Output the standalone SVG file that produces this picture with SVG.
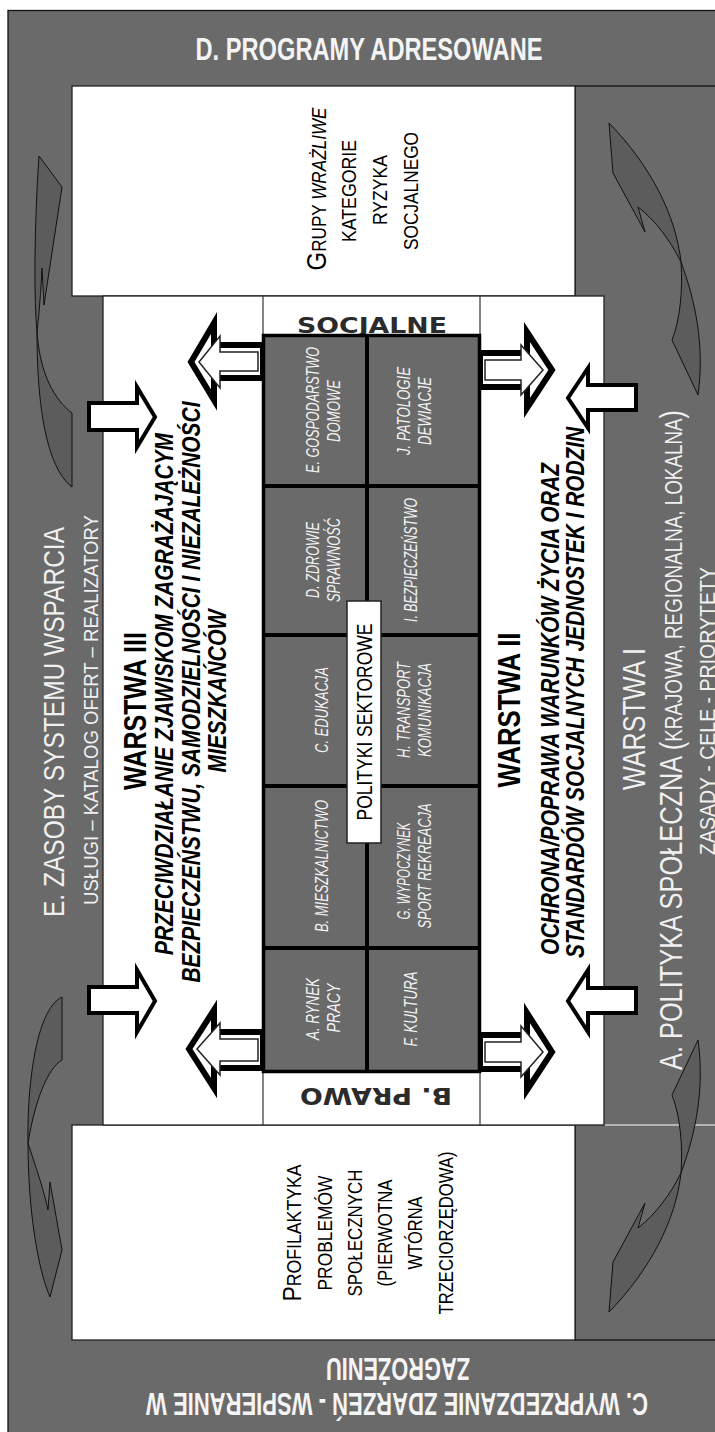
<svg xmlns="http://www.w3.org/2000/svg" width="715" height="1432" viewBox="0 0 715 1432">
  <style>
    .panel { fill: #6a6a6a; stroke: #111; stroke-width: 1.3; }
    .box { fill: #ffffff; stroke: #222; stroke-width: 1.3; }
    .rule { stroke: #333; stroke-width: 1.2; fill: none; }
    .grid { fill: #6a6a6a; stroke: #000; stroke-width: 3.5; }
    .gline { stroke: #000; stroke-width: 4; }
    .swoosh { fill: #5c5c5c; stroke: #111; stroke-width: 1; stroke-linejoin: round; }
    .arrow-o { fill: #fff; stroke: #000; stroke-width: 4; stroke-linejoin: miter; }
    .arrow-d { fill: #fff; stroke: #000; stroke-width: 6; stroke-linejoin: miter; }
    .arrow-i { fill: #fff; stroke: #222; stroke-width: 1.5; stroke-linejoin: miter; }
    text { font-family: "Liberation Sans Narrow", "Liberation Sans", Arial, sans-serif; }
    .ttl { font-size: 31px; font-weight: bold; fill: #f4f4f4; }
    .lite { fill: #f0f0f0; }
    .blk { fill: #000; }
    .bold { font-weight: bold; }
    .bi { font-weight: bold; font-style: italic; fill: #000; font-size: 26px; }
    .cell { font-size: 18px; font-style: italic; fill: #f2f2f2; }
    .sc { font-size: 20px; fill: #000; }
    .heavy { font-family: "DejaVu Sans", "Liberation Sans", sans-serif; font-weight: bold; fill: #2b2b2b; }
  </style>

  <!-- background frame -->
  <g id="frame">
    <rect class="panel" x="8" y="10.5" width="720" height="1430"/>
    <rect class="panel" x="575" y="86" width="150" height="1254"/>
    <line x1="605" y1="1125" x2="715" y2="1125" stroke="#b4b4b4" stroke-width="2"/>
  </g>

  <!-- curved swooshes in the side strips -->
  <g id="swooshes">
    <path class="swoosh" d="M39,156 L62,187 L44,305 L42,268 C41,290 39,315 37,332 C34,300 34,230 39,156 Z"/>
    <path class="swoosh" d="M37,332 C40,375 55,400 72,413 L72,487 C50,470 37,420 37,332 Z"/>
    <path class="swoosh" d="M62,997 L62,1060 C48,1068 35,1100 28,1143 C27,1090 35,1010 62,997 Z"/>
    <path class="swoosh" d="M28,1143 C35,1165 44,1190 48,1210 L50,1182 L62,1250 L50,1297 C38,1270 28,1210 28,1143 Z"/>
    <g id="swoosh-tr">
      <path class="swoosh" d="M609,123 L613,173 L645,232 L638,207 C655,220 670,240 681,262 C676,215 650,165 609,123 Z"/>
      <path class="swoosh" d="M681,262 C695,300 705,345 698,395 L672,340 C680,320 683,290 681,262 Z"/>
    </g>
    <g transform="translate(0,1435) scale(1,-1)">
      <path class="swoosh" d="M609,123 L613,173 L645,232 L638,207 C655,220 670,240 681,262 C676,215 650,165 609,123 Z"/>
      <path class="swoosh" d="M681,262 C695,300 705,345 698,395 L672,340 C680,320 683,290 681,262 Z"/>
    </g>
  </g>

  <!-- D: addressed programmes (top) -->
  <g id="node-d">
    <text class="ttl" x="369" y="60" text-anchor="middle" textLength="347" lengthAdjust="spacingAndGlyphs">D. PROGRAMY ADRESOWANE</text>
  </g>

  <!-- vulnerable groups box -->
  <g id="node-grupy">
    <rect class="box" x="72" y="86" width="503" height="210"/>
    <text class="sc" transform="translate(326,189) rotate(-90)" text-anchor="middle" textLength="163" lengthAdjust="spacingAndGlyphs"><tspan font-size="28">G</tspan>RUPY <tspan font-style="italic">WRAŻLIWE</tspan></text>
    <text class="sc" transform="translate(356,191) rotate(-90)" text-anchor="middle" textLength="102" lengthAdjust="spacingAndGlyphs">KATEGORIE</text>
    <text class="sc" transform="translate(387,190) rotate(-90)" text-anchor="middle" textLength="70" lengthAdjust="spacingAndGlyphs">RYZYKA</text>
    <text class="sc" transform="translate(418,191) rotate(-90)" text-anchor="middle" textLength="118" lengthAdjust="spacingAndGlyphs">SOCJALNEGO</text>
  </g>

  <!-- prevention box -->
  <g id="node-profilaktyka">
    <rect class="box" x="72" y="1125" width="503" height="215"/>
    <text class="sc" transform="translate(301,1233) rotate(-90)" text-anchor="middle" textLength="137" lengthAdjust="spacingAndGlyphs"><tspan font-size="26">P</tspan>ROFILAKTYKA</text>
    <text class="sc" transform="translate(332,1233) rotate(-90)" text-anchor="middle" textLength="115" lengthAdjust="spacingAndGlyphs">PROBLEMÓW</text>
    <text class="sc" transform="translate(362,1233) rotate(-90)" text-anchor="middle" textLength="127" lengthAdjust="spacingAndGlyphs">SPOŁECZNYCH</text>
    <text class="sc" transform="translate(392,1233) rotate(-90)" text-anchor="middle" textLength="107" lengthAdjust="spacingAndGlyphs">(PIERWOTNA</text>
    <text class="sc" transform="translate(422,1233) rotate(-90)" text-anchor="middle" textLength="73" lengthAdjust="spacingAndGlyphs">WTÓRNA</text>
    <text class="sc" transform="translate(453,1233) rotate(-90)" text-anchor="middle" textLength="163" lengthAdjust="spacingAndGlyphs">TRZECIORZĘDOWA)</text>
  </g>

  <!-- C: anticipating events (bottom, upside down) -->
  <g id="node-c">
    <text class="ttl" transform="translate(397,1393) rotate(180)" text-anchor="middle" textLength="502" lengthAdjust="spacingAndGlyphs">C. WYPRZEDZANIE ZDARZEŃ - WSPIERANIE W</text>
    <text class="ttl" font-size="29" transform="translate(398,1358) rotate(180)" text-anchor="middle" textLength="144" lengthAdjust="spacingAndGlyphs">ZAGROŻENIU</text>
  </g>

  <!-- E: support resources (left strip) -->
  <g id="node-e">
    <text class="lite" font-size="30" transform="translate(64,722) rotate(-90)" text-anchor="middle" textLength="390" lengthAdjust="spacingAndGlyphs">E. ZASOBY SYSTEMU WSPARCIA</text>
    <text class="lite" font-size="20" transform="translate(98,710) rotate(-90)" text-anchor="middle" textLength="390" lengthAdjust="spacingAndGlyphs">USŁUGI – KATALOG OFERT – REALIZATORY</text>
  </g>

  <!-- A: social policy (right strip) -->
  <g id="node-a">
    <text class="lite" font-size="31" transform="translate(645,719) rotate(-90)" text-anchor="middle" textLength="142" lengthAdjust="spacingAndGlyphs">WARSTWA I</text>
    <text class="lite" font-size="31" transform="translate(682,1070) rotate(-90)" textLength="660" lengthAdjust="spacingAndGlyphs">A. POLITYKA SPOŁECZNA (<tspan font-size="23">KRAJOWA, REGIONALNA, LOKALNA</tspan>)</text>
    <text class="lite" font-size="22" transform="translate(715,711) rotate(-90)" text-anchor="middle" textLength="288" lengthAdjust="spacingAndGlyphs">ZASADY - CELE - PRIORYTETY</text>
  </g>

  <!-- central white field with layers II and III -->
  <g id="node-warstwy">
    <rect class="box" x="103" y="296" width="501" height="829"/>
    <line class="rule" x1="263" y1="296" x2="263" y2="1125"/>
    <line class="rule" x1="480" y1="296" x2="480" y2="1125"/>
    <text class="blk bold" font-size="31" transform="translate(146,711) rotate(-90)" text-anchor="middle" textLength="158" lengthAdjust="spacingAndGlyphs">WARSTWA III</text>
    <text class="bi" transform="translate(173,694) rotate(-90)" text-anchor="middle" textLength="522" lengthAdjust="spacingAndGlyphs">PRZECIWDZIAŁANIE ZJAWISKOM ZAGRAŻAJĄCYM</text>
    <text class="bi" transform="translate(200,692) rotate(-90)" text-anchor="middle" textLength="581" lengthAdjust="spacingAndGlyphs">BEZPIECZEŃSTWU, SAMODZIELNOŚCI I NIEZALEŻNOŚCI</text>
    <text class="bi" transform="translate(226,691) rotate(-90)" text-anchor="middle" textLength="163" lengthAdjust="spacingAndGlyphs">MIESZKAŃCÓW</text>
    <text class="blk bold" font-size="31" transform="translate(520,710) rotate(-90)" text-anchor="middle" textLength="155" lengthAdjust="spacingAndGlyphs">WARSTWA II</text>
    <text class="bi" transform="translate(559,955) rotate(-90)" textLength="492" lengthAdjust="spacingAndGlyphs">OCHRONA/POPRAWA WARUNKÓW ŻYCIA ORAZ</text>
    <text class="bi" transform="translate(584,958) rotate(-90)" textLength="531" lengthAdjust="spacingAndGlyphs">STANDARDÓW SOCJALNYCH JEDNOSTEK I RODZIN</text>
  </g>

  <!-- social / law headers of the sector column -->
  <g id="node-socjalne">
    <text class="heavy" font-size="22" x="372" y="333" text-anchor="middle" textLength="150" lengthAdjust="spacingAndGlyphs">SOCJALNE</text>
  </g>
  <g id="node-prawo">
    <text class="heavy" font-size="23" transform="translate(376,1088) rotate(180)" text-anchor="middle" textLength="152" lengthAdjust="spacingAndGlyphs">B. PRAWO</text>
  </g>

  <!-- connectors -->
  <g id="connectors">
    <path class="arrow-o" d="M89,403 L137,403 L137,387 L155,417 L137,447 L137,430 L89,430 Z"/>
    <path class="arrow-o" d="M89,987 L137,987 L137,970 L155,1001 L137,1032 L137,1013 L89,1013 Z"/>
    <path class="arrow-o" d="M636,385 L588,385 L588,368 L568,398 L588,428 L588,410 L636,410 Z"/>
    <path class="arrow-o" d="M636,988 L588,988 L588,970 L568,1001 L588,1032 L588,1013 L636,1013 Z"/>

    <path class="arrow-d" d="M263,345 L214,345 L214,323 L191,362 L214,400 L214,378 L263,378 Z"/>
    <path class="arrow-i" d="M258,352 L220,352 L220,336 L199,362 L220,388 L220,371 L258,371 Z"/>
    <path class="arrow-d" d="M480,353 L527,353 L527,332 L552,370 L527,408 L527,387 L480,387 Z"/>
    <path class="arrow-i" d="M485,360 L521,360 L521,345 L543,370 L521,395 L521,380 L485,380 Z"/>
    <path class="arrow-d" d="M263,1032 L214,1032 L214,1010 L189,1049 L214,1088 L214,1068 L263,1068 Z"/>
    <path class="arrow-i" d="M258,1039 L220,1039 L220,1023 L197,1049 L220,1075 L220,1061 L258,1061 Z"/>
    <path class="arrow-d" d="M480,1035 L527,1035 L527,1013 L552,1052 L527,1090 L527,1069 L480,1069 Z"/>
    <path class="arrow-i" d="M485,1042 L521,1042 L521,1026 L543,1052 L521,1077 L521,1062 L485,1062 Z"/>
  </g>

  <!-- sector policy grid -->
  <g id="node-sektory">
    <rect class="grid" x="263.5" y="335.5" width="216" height="736"/>
    <line class="gline" x1="367" y1="336" x2="367" y2="1071"/>
    <line class="gline" x1="264" y1="486" x2="479" y2="486"/>
    <line class="gline" x1="264" y1="635" x2="479" y2="635"/>
    <line class="gline" x1="264" y1="786" x2="479" y2="786"/>
    <line class="gline" x1="264" y1="948" x2="479" y2="948"/>

    <text class="cell" transform="translate(319,410) rotate(-90)" text-anchor="middle" textLength="126" lengthAdjust="spacingAndGlyphs">E. GOSPODARSTWO</text>
    <text class="cell" transform="translate(340,411) rotate(-90)" text-anchor="middle" textLength="62" lengthAdjust="spacingAndGlyphs">DOMOWE</text>
    <text class="cell" transform="translate(410,411) rotate(-90)" text-anchor="middle" textLength="88" lengthAdjust="spacingAndGlyphs">J. PATOLOGIE</text>
    <text class="cell" transform="translate(431,411) rotate(-90)" text-anchor="middle" textLength="68" lengthAdjust="spacingAndGlyphs">DEWIACJE</text>

    <text class="cell" transform="translate(319,560) rotate(-90)" text-anchor="middle" textLength="76" lengthAdjust="spacingAndGlyphs">D. ZDROWIE</text>
    <text class="cell" transform="translate(340,560) rotate(-90)" text-anchor="middle" textLength="84" lengthAdjust="spacingAndGlyphs">SPRAWNOŚĆ</text>
    <text class="cell" transform="translate(417,560) rotate(-90)" text-anchor="middle" textLength="124" lengthAdjust="spacingAndGlyphs">I. BEZPIECZEŃSTWO</text>

    <text class="cell" transform="translate(328,710) rotate(-90)" text-anchor="middle" textLength="86" lengthAdjust="spacingAndGlyphs">C. EDUKACJA</text>
    <text class="cell" transform="translate(410,710) rotate(-90)" text-anchor="middle" textLength="96" lengthAdjust="spacingAndGlyphs">H. TRANSPORT</text>
    <text class="cell" transform="translate(431,710) rotate(-90)" text-anchor="middle" textLength="94" lengthAdjust="spacingAndGlyphs">KOMUNIKACJA</text>

    <text class="cell" transform="translate(328,866) rotate(-90)" text-anchor="middle" textLength="132" lengthAdjust="spacingAndGlyphs">B. MIESZKALNICTWO</text>
    <text class="cell" transform="translate(410,871) rotate(-90)" text-anchor="middle" textLength="97" lengthAdjust="spacingAndGlyphs">G. WYPOCZYNEK</text>
    <text class="cell" transform="translate(431,866) rotate(-90)" text-anchor="middle" textLength="125" lengthAdjust="spacingAndGlyphs">SPORT REKREACJA</text>

    <text class="cell" transform="translate(319,1009) rotate(-90)" text-anchor="middle" textLength="62" lengthAdjust="spacingAndGlyphs">A. RYNEK</text>
    <text class="cell" transform="translate(340,1008) rotate(-90)" text-anchor="middle" textLength="49" lengthAdjust="spacingAndGlyphs">PRACY</text>
    <text class="cell" transform="translate(417,1009) rotate(-90)" text-anchor="middle" textLength="75" lengthAdjust="spacingAndGlyphs">F. KULTURA</text>

    <rect x="347" y="601" width="34" height="242" fill="#fff" stroke="#222" stroke-width="1.5"/>
    <text class="blk" font-size="22" transform="translate(372,722) rotate(-90)" text-anchor="middle" textLength="197" lengthAdjust="spacingAndGlyphs">POLITYKI SEKTOROWE</text>
  </g>
</svg>
